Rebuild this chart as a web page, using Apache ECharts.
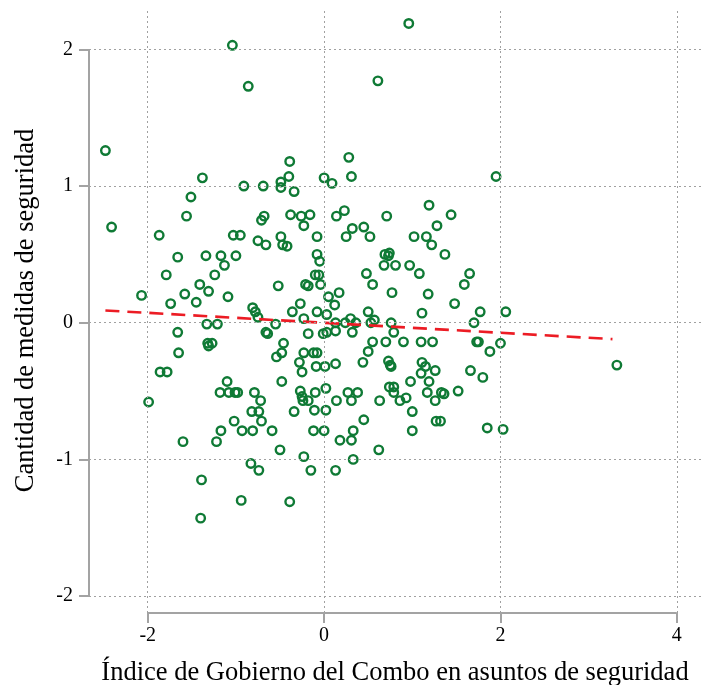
<!DOCTYPE html>
<html>
  <head>
    <title></title>
    <meta charset="UTF-8" />
    <script src="https://cdn.jsdelivr.net/npm/echarts@6/dist/echarts.min.js"></script>
    <style>
      html, body { margin: 0; padding: 0; background: #fff; }
    </style>
  </head>
  <body>
    <div id="main"></div>
    <script>
      const width = 701;
      const height = 685;
      const main = document.getElementById('main');
      main.style.width = `${width}px`;
      main.style.height = `${height}px`;

      const xTicks = [-2, 0, 2, 4];
      const yTicks = [-2, -1, 0, 1, 2];

      // Índice de Gobierno del Combo (x) / Cantidad de medidas (y)
      const govIndex = [
        0.96, -1.04, -0.86, 0.61, -2.48, -1.38, -1.51, -1.56, -2.41, -1.87,
        -0.91, -0.69, -0.68, -0.71, -1.03, -0.95, -0.75, -0.66, -1.66, -1.34,
        -1.17, -1.00, -1.13, -1.79, -1.24, -1.41, -1.31, -2.07, -1.58, -1.09,
        -1.74, -1.45, -0.81, -0.78, -0.75, -1.33, -1.21, -1.66, -0.66, -0.08,
        -0.05, -0.10, -0.06, -0.52, -0.21, -0.18, -0.04, -0.36, -0.27, -0.23,
        -0.08, 0.05, 0.03, -0.64, -0.55, -0.18, -0.01, 0.03, -1.32, -1.27,
        -1.31, -1.65, -0.46, -0.48, -0.54, -0.23, -0.12, -0.08, -0.28, -0.09,
        0.01, -0.25, -1.86, -1.78, 0.02, -1.10, -0.48, -1.18, -1.08, -1.01,
        -0.98, -0.79, -0.72, -0.27, -0.25, -0.24, -0.18, -0.10, -1.99, -0.39,
        -0.40, -0.49, -0.49, -0.34, 0.00, 0.09, 0.28, 0.31, -0.38, -0.26,
        -0.16, -0.23, 0.14, 0.23, 0.32, 0.25, 0.45, 0.52, 0.71, 1.19,
        1.28, 1.02, 1.16, 1.22, 1.37, -0.49, -0.47, -0.42, -0.08, 0.69,
        0.74, 0.73, 0.68, 0.81, 0.97, 1.08, 0.48, 0.55, 0.77, 1.18,
        0.17, 0.12, 0.13, 0.24, 0.30, 0.36, 0.50, 0.53, 0.57, 0.76,
        1.11, 0.13, 0.32, 0.79, 1.65, 1.59, 1.48, 1.77, 2.06, 1.70,
        0.55, 0.70, 0.90, 1.10, 1.23, 1.73, 1.75, 2.00, 1.88, 0.50,
        0.44, 0.73, 0.75, 0.76, 1.11, 1.15, 1.10, 1.26, 1.66, 1.80,
        3.32, 0.13, 0.27, 0.38, 0.31, 0.14, 0.74, 0.79, 0.79, 0.98,
        1.19, 1.17, 1.33, 1.36, 1.52, 0.63, 0.86, 0.93, 1.26, -0.34,
        -0.11, 0.02, -0.59, -0.12, 0.00, 0.45, 0.33, 0.18, 0.31, 1.00,
        1.00, 1.27, 1.32, -0.50, -0.23, -0.15, 0.13, 0.33, 0.62, -0.39,
        1.85, 2.03, 1.95, 1.44, -0.82, -0.74, -1.02, -0.71, -1.17, -0.93,
        -0.81, -1.22, -1.60, -0.83, -0.74, -1.39, -0.94, -1.40
      ];
      const securityCount = [
        2.19, 2.03, 1.73, 1.77, 1.26, 1.06, 0.92, 0.78, 0.70, 0.64,
        1.00, 1.00, 0.78, 0.75, 0.64, 0.64, 0.60, 0.57, 0.48, 0.49,
        0.49, 0.49, 0.42, 0.35, 0.35, 0.28, 0.23, 0.20, 0.21, 0.19,
        0.14, 0.15, 0.11, 0.08, 0.04, -0.01, -0.01, -0.07, -0.07, 0.50,
        0.45, 0.35, 0.35, 0.27, 0.28, 0.27, 0.28, 0.08, 0.14, 0.03,
        0.08, 0.19, 0.06, -0.08, -0.01, -0.08, -0.08, -0.07, -0.15, -0.15,
        -0.17, -0.22, -0.15, -0.22, -0.25, -0.22, -0.22, -0.22, -0.29, -0.32,
        -0.32, -0.36, -0.36, -0.36, -0.48, -0.43, -0.43, -0.51, -0.51, -0.51,
        -0.51, -0.51, -0.57, -0.50, -0.54, -0.57, -0.57, -0.51, -0.58, 1.18,
        1.07, 1.03, 0.99, 0.96, 1.06, 1.02, 1.21, 1.07, 0.79, 0.78,
        0.79, 0.71, 0.78, 0.82, 0.69, 0.63, 0.70, 0.63, 0.78, 0.86,
        0.71, 0.63, 0.63, 0.57, 0.50, 0.63, 0.57, 0.56, 0.63, 0.50,
        0.51, 0.49, 0.42, 0.42, 0.42, 0.36, 0.36, 0.28, 0.22, 0.21,
        0.22, 0.13, 0.00, 0.00, 0.03, 0.00, 0.08, 0.00, 0.02, 0.00,
        0.07, -0.06, -0.07, -0.07, 0.36, 0.28, 0.14, 0.08, 0.08, 0.00,
        -0.14, -0.14, -0.14, -0.14, -0.14, -0.14, -0.14, -0.15, -0.21, -0.21,
        -0.29, -0.28, -0.31, -0.32, -0.29, -0.32, -0.37, -0.35, -0.35, -0.40,
        -0.31, -0.30, -0.51, -0.51, -0.57, -0.57, -0.47, -0.47, -0.51, -0.43,
        -0.43, -0.51, -0.51, -0.52, -0.50, -0.57, -0.57, -0.55, -0.57, -0.65,
        -0.64, -0.64, -0.79, -0.79, -0.79, -0.71, -0.79, -0.86, -0.86, -0.65,
        -0.79, -0.72, -0.72, -0.93, -0.98, -1.08, -1.08, -1.00, -0.93, -1.31,
        -0.77, -0.78, 1.07, 0.79, -0.65, -0.65, -0.72, -0.72, -0.79, -0.79,
        -0.79, -0.87, -0.87, -1.03, -1.08, -1.15, -1.30, -1.43
      ];

      // fitted line end points
      const fitX = [-2.48, 3.27];
      const fitY = [0.09, -0.12];

      const X_MIN = -2.666, X_MAX = 4.274;
      const Y_MIN = -2.124, Y_MAX = 2.303;

      const axisGray = '#a3a3a3';
      const serif = '"Liberation Serif", "Times New Roman", serif';

      const gridLine = { color: '#a0a0a0', width: 1, type: [2, 3] };
      const axisLineStyle = { color: axisGray, width: 2, type: 'solid' };

      const myChart = echarts.init(main, null, { renderer: 'canvas' });
      const option = {
        animation: false,
        backgroundColor: '#fff',
        grid: {
          left: 89, right: 0, top: 8, bottom: 72,
          containLabel: false,
          outerBoundsMode: 'none',
        },
        xAxis: {
          type: 'value',
          min: X_MIN,
          max: X_MAX,
          name: 'Índice de Gobierno del Combo en asuntos de seguridad',
          nameLocation: 'middle',
          nameGap: 47,
          nameTextStyle: { fontFamily: serif, fontSize: 26.5, color: '#000' },
          axisLine: { show: false, onZero: false },
          axisTick: { show: true, length: 10, customValues: xTicks, lineStyle: { color: axisGray, width: 2 } },
          axisLabel: { customValues: xTicks, margin: 13, fontFamily: serif, fontSize: 20, color: '#000' },
          splitLine: { show: false },
        },
        yAxis: {
          type: 'value',
          min: Y_MIN,
          max: Y_MAX,
          name: 'Cantidad de medidas de seguridad',
          nameLocation: 'middle',
          nameGap: 49,
          nameTextStyle: { fontFamily: serif, fontSize: 26.5, color: '#000' },
          axisLine: { show: false, onZero: false },
          axisTick: { show: true, length: 10, customValues: yTicks, lineStyle: { color: axisGray, width: 2 } },
          axisLabel: { customValues: yTicks, margin: 16, fontFamily: serif, fontSize: 20, color: '#000' },
          splitLine: { show: false },
        },
        series: [
          {
            type: 'line',
            data: [],
            z: 1,
            silent: true,
            markLine: {
              silent: true,
              symbol: 'none',
              label: { show: false },
              animation: false,
              data: [
                ...xTicks.map((v) => ({ xAxis: v, lineStyle: gridLine })),
                ...yTicks.map((v) => ({ yAxis: v, lineStyle: gridLine })),
                [
                  { coord: [X_MIN, yTicks[0]], lineStyle: axisLineStyle },
                  { coord: [X_MIN, yTicks[yTicks.length - 1]] },
                ],
                [
                  { coord: [xTicks[0], Y_MIN], lineStyle: axisLineStyle },
                  { coord: [xTicks[xTicks.length - 1], Y_MIN] },
                ],
              ],
            },
          },
          {
            type: 'scatter',
            z: 3,
            data: govIndex.map((x, i) => [x, securityCount[i]]),
            symbol: 'circle',
            symbolSize: 8.5,
            itemStyle: {
              color: 'rgba(0,0,0,0)',
              borderColor: '#0f7a35',
              borderWidth: 2.4,
              opacity: 1,
            },
          },
          {
            type: 'line',
            z: 4,
            data: fitX.map((x, i) => [x, fitY[i]]),
            symbol: 'none',
            lineStyle: { color: '#ec1c24', width: 2.6, type: [14, 8] },
          },
        ],
      };
      myChart.setOption(option);
    </script>
  </body>
</html>
